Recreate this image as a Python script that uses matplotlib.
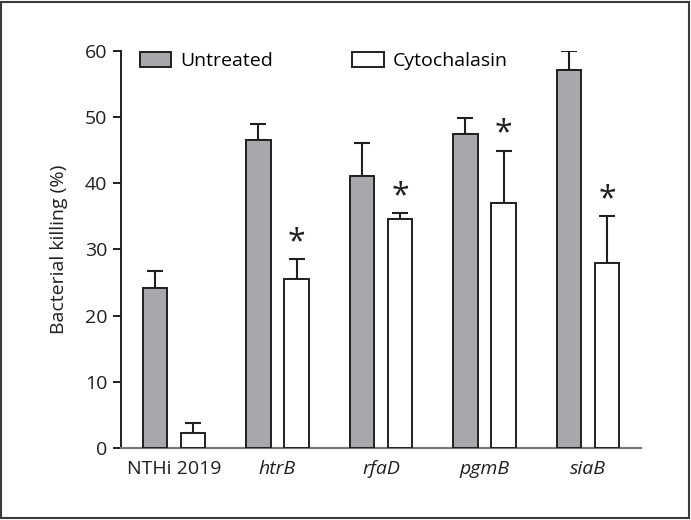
import matplotlib
matplotlib.use("Agg")
import matplotlib.pyplot as plt
from matplotlib.patches import Patch, Rectangle
import numpy as np

plt.rcParams['font.family'] = ['Open Sans', 'DejaVu Sans']

categories = ["NTHi 2019", "htrB", "rfaD", "pgmB", "siaB"]
italic = [False, True, True, True, True]
untreated = [24.2, 46.5, 41.1, 47.4, 57.1]
untreated_err = [2.5, 2.5, 5.0, 2.5, 2.8]
cytochalasin = [2.2, 25.5, 34.6, 37.0, 27.9]
cytochalasin_err = [1.5, 3.0, 0.9, 7.9, 7.1]
significant = [False, True, True, True, True]
yticks = [0, 10, 20, 30, 40, 50, 60]

dark = '#231f20'
grayfill = '#a7a8ab'
fs = 14

fig = plt.figure(figsize=(6.91, 5.20), dpi=100)
ax = fig.add_axes([121/691, 1-448/520, 520/691, (448-50.7)/520])

x = np.arange(len(categories))
w = 0.237
off = 0.184

ax.bar(x - off, untreated, w, color=grayfill, edgecolor=dark, linewidth=1.4, zorder=3)
ax.bar(x + off, cytochalasin, w, color='white', edgecolor=dark, linewidth=1.4, zorder=3)
ax.errorbar(x - off, untreated, yerr=[np.zeros(len(x)), untreated_err], fmt='none',
            ecolor=dark, elinewidth=1.5, capsize=5.8, capthick=1.5, zorder=2)
ax.errorbar(x + off, cytochalasin, yerr=[np.zeros(len(x)), cytochalasin_err], fmt='none',
            ecolor=dark, elinewidth=1.5, capsize=5.8, capthick=1.5, zorder=2)

for xi, v, e, s in zip(x, cytochalasin, cytochalasin_err, significant):
    if s:
        ax.annotate('*', xy=(xi + off, v + e), xytext=(0, 0), textcoords='offset points',
                    ha='center', va='bottom', fontsize=23, color=dark)

ax.set_xlim(-0.512, 4.512)
ax.set_ylim(0, 60)
ax.set_yticks(yticks)
ax.set_yticklabels([str(t) for t in yticks], fontsize=fs, color=dark)
ax.set_xticks(x)
ax.set_xticklabels(categories, fontsize=fs, color=dark)
for lab, it in zip(ax.get_xticklabels(), italic):
    if it:
        lab.set_fontstyle('italic')
ax.tick_params(axis='x', length=0, pad=9)
ax.tick_params(axis='y', length=6, width=1.4, color=dark, pad=4, direction='out')
ax.spines['top'].set_visible(False)
ax.spines['right'].set_visible(False)
ax.spines['left'].set_color(dark)
ax.spines['left'].set_linewidth(1.4)
ax.spines['bottom'].set_color('#7a7a7a')
ax.spines['bottom'].set_linewidth(1.6)
ax.set_ylabel('Bacterial killing (%)', fontsize=fs, color=dark, labelpad=12)

handles = [Patch(facecolor=grayfill, edgecolor=dark, linewidth=1.4, label='Untreated'),
           Patch(facecolor='white', edgecolor=dark, linewidth=1.4, label='Cytochalasin')]
ax.legend(handles=handles, loc='upper left', bbox_to_anchor=(0.0365, 0.997), ncol=2,
          frameon=False, fontsize=fs, handlelength=1.6, handleheight=0.82,
          handletextpad=0.45, columnspacing=4.1, borderpad=0, borderaxespad=0)

fig.patches.append(Rectangle((0.002, 0.003), 0.995, 0.993, transform=fig.transFigure,
                             fill=False, edgecolor='#3a3a3a', linewidth=1.5))

fig.savefig('out.png', dpi=100)
